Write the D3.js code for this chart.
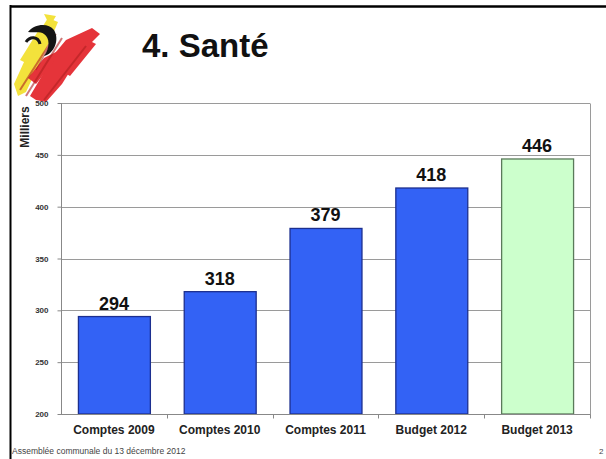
<!DOCTYPE html>
<html><head><meta charset="utf-8">
<script src="https://cdn.jsdelivr.net/npm/d3@7"></script>
<style>body{margin:0;background:#fff}svg{display:block;font-family:"Liberation Sans",Arial,sans-serif}</style>
</head><body>
<svg id="c" width="606" height="459"></svg>
<script>
const categories = ["Comptes 2009","Comptes 2010","Comptes 2011","Budget 2012","Budget 2013"];
const values = [294, 318, 379, 418, 446];
const yTicks = [200, 250, 300, 350, 400, 450, 500];
const title = "4. Santé";
const yLabel = "Milliers";
const footer = "Assemblée communale du 13 décembre 2012";
const pageNum = "2";

const svg = d3.select("#c");
const W = 606, H = 459;
const m = {left: 61, right: 16, top: 103, bottom: 45};

// slide frame
svg.append("line").attr("x1",10).attr("x2",W).attr("y1",6.5).attr("y2",6.5).attr("stroke","#000").attr("stroke-width",2.5);
svg.append("line").attr("x1",10.5).attr("x2",10.5).attr("y1",5).attr("y2",H).attr("stroke","#000").attr("stroke-width",2);

// logo (brush strokes)
const logo = svg.append("g");
const yel = "#f3e23c", red = "#e5343a";
logo.append("path").attr("d","M14,84 L34,40 L48,18 L58,22 L52,36 L40,62 L26,92 L18,96 Z").attr("fill",yel);
logo.append("path").attr("d","M20,60 L40,28 L46,30 L28,64 Z").attr("fill",yel);
logo.append("path").attr("d","M44,14 L56,16 L50,26 Z").attr("fill",yel);
logo.append("path").attr("d","M30,96 L56,52 L66,40 L92,28 L100,34 L82,52 L62,84 L46,102 L36,100 Z").attr("fill",red);
logo.append("path").attr("d","M28,78 L44,58 L60,50 L52,64 L36,84 Z").attr("fill",red);
logo.append("path").attr("d","M60,70 L88,40 L96,44 L70,76 Z").attr("fill",red);
[[20,90,52,40,2],[26,96,62,38,2],[44,100,86,46,2],[36,70,56,34,1.5]].forEach(s=>{
  logo.append("line").attr("x1",s[0]).attr("y1",s[1]).attr("x2",s[2]).attr("y2",s[3]).attr("stroke","#b02020").attr("stroke-width",s[4]).attr("opacity",0.6);
});
logo.append("path").attr("d","M28,32 C34,24 48,22 54,30 C60,40 54,54 44,56 C50,48 50,38 44,34 C40,31 34,33 28,32 Z").attr("fill","#151515");
logo.append("path").attr("d","M26,42 C30,36 38,36 40,44").attr("fill","none").attr("stroke","#151515").attr("stroke-width",3);

// title
svg.append("text").attr("x",142).attr("y",57).attr("font-size",33).attr("font-weight","bold").attr("fill","#111").text(title);

const x = d3.scaleBand().domain(categories).range([m.left, W - m.right]).paddingInner(0.32).paddingOuter(0.16);
const y = d3.scaleLinear().domain([200, 500]).range([H - m.bottom, m.top]);

// gridlines
svg.append("g").selectAll("line").data(yTicks.filter(t=>t>200)).join("line")
  .attr("x1", m.left).attr("x2", W - m.right)
  .attr("y1", d=>Math.round(y(d))+0.5).attr("y2", d=>Math.round(y(d))+0.5)
  .attr("stroke","#9a9a9a").attr("stroke-width",1);
// right border of plot
svg.append("line").attr("x1",W-m.right+0.5).attr("x2",W-m.right+0.5).attr("y1",Math.round(y(500))+0.5).attr("y2",Math.round(y(200))+4)
  .attr("stroke","#9a9a9a");

// bars
svg.append("g").selectAll("rect").data(values).join("rect")
  .attr("x",(d,i)=>x(categories[i])+0.5)
  .attr("width",x.bandwidth())
  .attr("y",d=>y(d))
  .attr("height",d=>y(200)-y(d))
  .attr("fill",(d,i)=>i===4?"#ccffcc":"#3362f5")
  .attr("stroke",(d,i)=>i===4?"#5a7a5a":"#1c2f8f")
  .attr("stroke-width",1.3);

// value labels
svg.append("g").selectAll("text").data(values).join("text")
  .attr("x",(d,i)=>x(categories[i])+x.bandwidth()/2)
  .attr("y",d=>y(d)-7)
  .attr("text-anchor","middle").attr("font-size",18).attr("font-weight","bold").attr("fill","#111")
  .text(d=>d);

// y axis
const ya = svg.append("g").attr("transform",`translate(${m.left+0.5},0)`)
  .call(d3.axisLeft(y).tickValues(yTicks).tickSize(4).tickPadding(9));
ya.select(".domain").attr("stroke","#888").attr("d",`M0,${y(500)}V${y(200)}`);
ya.selectAll(".tick line").attr("stroke","#888");
ya.selectAll("text").attr("font-size",8).attr("font-weight","bold").attr("fill","#333").attr("font-family","Liberation Sans, Arial, sans-serif");

// x axis
const xa = svg.append("g").attr("transform",`translate(0,${Math.round(y(200))+0.5})`);
xa.append("line").attr("x1",m.left).attr("x2",W-m.right).attr("stroke","#888");
xa.selectAll("line.t").data(d3.range(1,categories.length+1)).join("line").attr("class","t")
  .attr("x1",i=>Math.round(m.left + i*x.step())+0.5).attr("x2",i=>Math.round(m.left + i*x.step())+0.5)
  .attr("y1",0).attr("y2",4).attr("stroke","#888");
xa.selectAll("text").data(categories).join("text")
  .attr("x",c=>x(c)+x.bandwidth()/2).attr("y",19)
  .attr("text-anchor","middle").attr("font-size",12).attr("font-weight","bold").attr("fill","#222").text(c=>c);

// y label
svg.append("text").attr("transform","translate(29,127) rotate(-90)").attr("text-anchor","middle")
  .attr("font-size",12).attr("font-weight","bold").attr("fill","#222").text(yLabel);

// footer
svg.append("text").attr("x",12).attr("y",454).attr("font-size",8.5).attr("fill","#444").text(footer);
svg.append("text").attr("x",599).attr("y",454).attr("font-size",8).attr("fill","#444").text(pageNum);
</script>
</body></html>
